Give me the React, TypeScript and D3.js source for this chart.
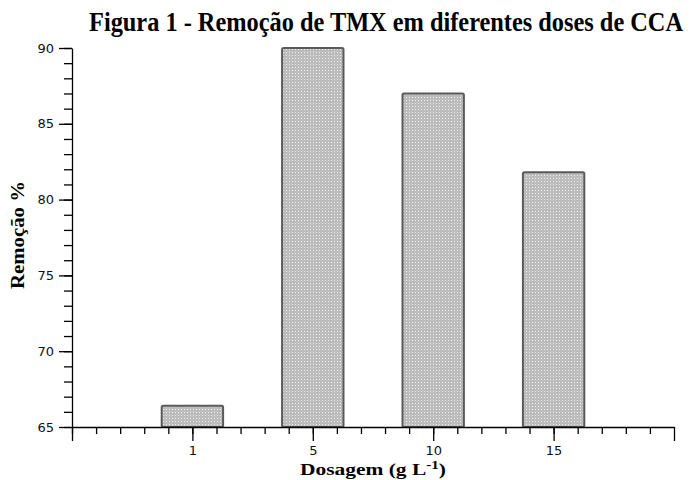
import React, { useEffect, useRef } from 'react';
import * as d3 from 'd3';

const categories = ['1', '5', '10', '15'];
const removal = [66.4, 90.0, 87.0, 81.8];
const yMajor = [65, 70, 75, 80, 85, 90];

const W = 691;
const H = 480;

const App = () => {
  const svgRef = useRef<SVGSVGElement>(null);

  useEffect(() => {
    const svg = d3.select(svgRef.current);
    svg.selectAll('*').remove();

    const left = 72, right = 674, top = 48, bottom = 427;

    // categories sit at 1..n on a linear index scale
    const x = d3.scaleLinear().domain([0, categories.length + 1]).range([left, right]);
    const y = d3.scaleLinear().domain([65, 90]).range([bottom, top]);

    const defs = svg.append('defs');
    const pat = defs.append('pattern')
      .attr('id', 'dots')
      .attr('patternUnits', 'userSpaceOnUse')
      .attr('width', 3)
      .attr('height', 3);
    pat.append('rect').attr('width', 3).attr('height', 3).attr('fill', '#bcbcbc');
    pat.append('rect').attr('x', 1).attr('y', 1).attr('width', 1).attr('height', 1).attr('fill', '#ececec');

    const serif = '"Liberation Serif", "Times New Roman", serif';

    // title
    svg.append('text')
      .attr('transform', 'translate(386,31) scale(1,1.12)')
      .attr('text-anchor', 'middle')
      .attr('textLength', 594)
      .attr('lengthAdjust', 'spacingAndGlyphs')
      .style('font-family', serif)
      .style('font-weight', 'bold')
      .style('font-size', '24px')
      .text('Figura 1 - Remoção de TMX em diferentes doses de CCA');

    // bars
    const bw = (x(1) - x(0)) * 0.51;
    svg.append('g')
      .selectAll('rect')
      .data(removal)
      .join('rect')
      .attr('x', (d, i) => x(i + 1) - bw / 2)
      .attr('y', d => y(d))
      .attr('width', bw)
      .attr('height', d => bottom - y(d))
      .attr('rx', 1.5)
      .attr('fill', 'url(#dots)')
      .attr('stroke', '#5a5a5a')
      .attr('stroke-width', 2);

    const tickFont = (g: any) => g.selectAll('text')
      .style('font-family', '"DejaVu Sans", sans-serif')
      .style('font-size', '13px')
      .attr('fill', '#111');

    // y axis: minor ticks
    svg.append('g')
      .attr('transform', `translate(${left},0)`)
      .call(d3.axisLeft(y).tickValues(d3.range(65, 91, 1)).tickSize(8).tickFormat(() => ''))
      .call(g => g.select('.domain').remove());
    // y axis: major ticks
    svg.append('g')
      .attr('transform', `translate(${left},0)`)
      .call(d3.axisLeft(y).tickValues(yMajor).tickSize(13).tickPadding(5).tickSizeOuter(0).tickFormat(d3.format('d')))
      .call(tickFont);

    // x axis: minor ticks
    svg.append('g')
      .attr('transform', `translate(0,${bottom})`)
      .call(d3.axisBottom(x).tickValues(d3.range(0, 25).map(v => v / 5)).tickSize(7).tickFormat(() => ''))
      .call(g => g.select('.domain').remove());
    // x axis: ends
    svg.append('g')
      .attr('transform', `translate(0,${bottom})`)
      .call(d3.axisBottom(x).tickValues([0, categories.length + 1]).tickSize(14).tickFormat(() => ''))
      .call(g => g.select('.domain').remove());
    // x axis: categories
    svg.append('g')
      .attr('transform', `translate(0,${bottom})`)
      .call(d3.axisBottom(x).tickValues(categories.map((c, i) => i + 1)).tickSize(14).tickPadding(5).tickSizeOuter(0)
        .tickFormat((d, i) => categories[i]))
      .call(tickFont);

    svg.selectAll('.domain, .tick line').attr('stroke', '#000').attr('stroke-width', 1.3);

    // axis titles
    const xt = svg.append('text')
      .attr('x', (left + right) / 2)
      .attr('y', 475)
      .attr('text-anchor', 'middle')
      .attr('textLength', 146)
      .attr('lengthAdjust', 'spacingAndGlyphs')
      .style('font-family', serif)
      .style('font-weight', 'bold')
      .style('font-size', '17px');
    xt.append('tspan').text('Dosagem (g L');
    xt.append('tspan').attr('dy', -6).style('font-size', '12px').text('-1');
    xt.append('tspan').attr('dy', 6).text(')');

    svg.append('text')
      .attr('transform', `translate(24,235) rotate(-90)`)
      .attr('text-anchor', 'middle')
      .attr('textLength', 108)
      .attr('lengthAdjust', 'spacingAndGlyphs')
      .style('font-family', serif)
      .style('font-weight', 'bold')
      .style('font-size', '18px')
      .text('Remoção %');
  }, []);

  return (
    <svg
      ref={svgRef}
      width={W}
      height={H}
      style={{ position: 'absolute', left: 0, top: 0, background: '#fff' }}
    />
  );
};

export default App;
